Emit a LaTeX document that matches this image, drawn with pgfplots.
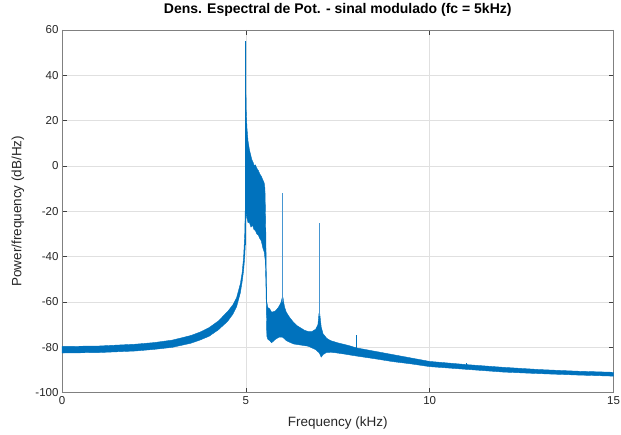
\documentclass[border=0pt]{standalone}
\usepackage{fontspec}
\setmainfont{Liberation Sans}
\usepackage{pgfplots}
\pgfplotsset{compat=1.18}
\definecolor{mblue}{RGB}{0,114,189}
\definecolor{mspike}{RGB}{70,150,210}
\begin{document}
\begin{tikzpicture}
\useasboundingbox (-62pt,-41.3pt) rectangle (559pt,392.7pt);
\begin{axis}[
  scale only axis,
  width=551.5pt, height=362.7pt,
  xmin=0, xmax=15, ymin=-100, ymax=60,
  xtick={0,5,10,15},
  ytick={-100,-80,-60,-40,-20,0,20,40,60},
  /pgf/number format/assume math mode=true,
  tick label style={font=\fontsize{11.5}{13}\selectfont, color=black!85},
  major tick length=5pt,
  tick style={color=black!75, line width=0.5pt},
  axis line style={color=black!50, line width=0.6pt},
  grid=major, grid style={color=black!12, line width=0.5pt},
  title={\textbf{Dens. Espectral de Pot. - sinal modulado (fc = 5kHz)}},
  title style={font=\fontsize{14}{16}\selectfont, at={(axis description cs:0.5,1)}, anchor=center, yshift=14pt},
  xlabel={Frequency (kHz)},
  xlabel style={font=\fontsize{13.5}{15}\selectfont, color=black!85, at={(axis description cs:0.5,0)}, anchor=center, yshift=-30pt},
  ylabel={Power/frequency (dB/Hz)},
  ylabel style={font=\fontsize{13.5}{15}\selectfont, color=black!85, at={(axis description cs:0,0.5)}, anchor=center, yshift=44pt},
]
% thick PSD band: upper envelope, then lower envelope back
\addplot[fill=mblue, draw=mblue, line width=0.4pt, line join=round] coordinates {
  (0,-79.6) (1,-79.4) (2,-78.6) (2.5,-77.9) (3,-76.8) (3.5,-74.8) (3.75,-73.3)
  (4,-71.3) (4.25,-68.4) (4.5,-64.3) (4.65,-61.2) (4.75,-58) (4.85,-52)
  (4.9,-47) (4.94,-40) (4.97,-30) (4.985,-18) (4.995,0) (5.0,55) (5.004,32)
  (5.012,24) (5.03,17) (5.06,11) (5.1,7) (5.13,5) (5.16,3) (5.2,1.5) (5.23,0)
  (5.26,0.5) (5.3,-1) (5.34,-2) (5.38,-3.5) (5.42,-4.5) (5.46,-6) (5.5,-7.5)
  (5.52,-10) (5.54,-25) (5.555,-45) (5.57,-60) (5.6,-62.5) (5.65,-63)
  (5.7,-64.5) (5.8,-64) (5.88,-62.5) (5.95,-60.5) (5.99,-58) (6.01,-58)
  (6.05,-62) (6.1,-64.5) (6.2,-67) (6.3,-69) (6.4,-70.5) (6.5,-71.5) (6.6,-72.5)
  (6.7,-73) (6.8,-73) (6.9,-72) (6.96,-70) (6.99,-65) (7.01,-65) (7.05,-71)
  (7.1,-74) (7.2,-76) (7.3,-77) (7.5,-78) (7.8,-79.2) (8,-80.2) (8.5,-81.7)
  (9,-83.2) (9.5,-84.7) (10,-86.2) (11,-87.6) (12,-88.8) (13,-89.8)
  (14,-90.5) (15,-91)
  (15,-92.7) (14,-92.2) (13,-91.6) (12,-90.9) (11,-89.7) (10,-88.5)
  (9.5,-87.3) (9,-86.3) (8.5,-85) (8,-83.8) (7.7,-83) (7.4,-82.3) (7.2,-82.2)
  (7.1,-83.2) (7.05,-84.3) (7.0,-82.5) (6.9,-81) (6.7,-79.5) (6.5,-79)
  (6.3,-78.5) (6.2,-77.8) (6.1,-77) (6.0,-75.5) (5.9,-75.5) (5.8,-76.5)
  (5.7,-78) (5.65,-77) (5.6,-76.5) (5.57,-75) (5.55,-55) (5.53,-42) (5.5,-38)
  (5.46,-36) (5.42,-33) (5.38,-32) (5.34,-30.5) (5.3,-30) (5.26,-28.5)
  (5.22,-28) (5.18,-26) (5.14,-27) (5.1,-25) (5.06,-25) (5.03,-23) (5.01,-20)
  (5.0,-22) (4.99,-33) (4.97,-40) (4.94,-46) (4.9,-51) (4.85,-56) (4.75,-62)
  (4.65,-65.3) (4.5,-68.6) (4.25,-72.3) (4,-75.1) (3.75,-76.8) (3.5,-78.2)
  (3,-80) (2.5,-80.9) (2,-81.6) (1,-82.3) (0,-82.5)
};
% narrow spectral lines
\addplot[mblue, line width=0.9pt] coordinates {(5,-35) (5,55)};
\addplot[mspike, line width=0.8pt] coordinates {(6,-60) (6,-12.1)};
\addplot[mspike, line width=0.8pt] coordinates {(7,-66) (7,-25)};
\addplot[mblue, line width=0.6pt] coordinates {(8,-82.5) (8,-74.7)};
\addplot[mblue, line width=0.5pt] coordinates {(9,-85) (9,-83.3)};
\addplot[mblue, line width=0.5pt] coordinates {(11,-88.5) (11,-87)};
\end{axis}
\end{tikzpicture}
\end{document}
